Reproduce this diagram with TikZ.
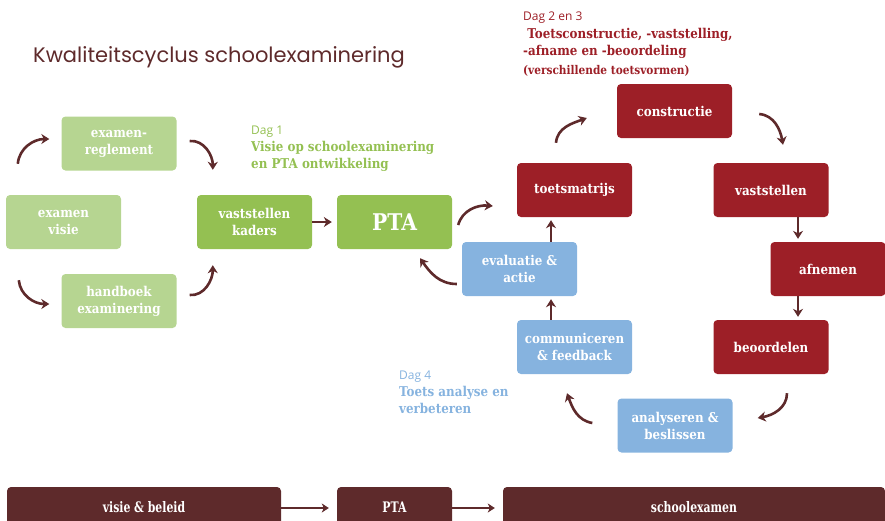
\documentclass[tikz,border=0pt]{standalone}
\usepackage{fontspec}
\setmainfont{DejaVu Serif}
\newfontfamily\titlefont{Poppins}
\newfontfamily\dagfont{Open Sans}
\newfontfamily\slab{DejaVu Serif}[FakeStretch=0.88]
\newfontfamily\condslab{DejaVu Serif}[FakeStretch=0.75]
\usetikzlibrary{arrows.meta,calc}
\definecolor{lgreen}{HTML}{B6D591}
\definecolor{dgreen}{HTML}{94C052}
\definecolor{dred}{HTML}{9D1F27}
\definecolor{lblue}{HTML}{86B3DF}
\definecolor{maroon}{HTML}{5E2A2B}
\tikzset{
  box/.style={rounded corners=4pt, minimum width=115pt, minimum height=54pt, inner sep=2pt,
    align=center, text=white, font=\slab\bfseries\fontsize{13.5}{17}\selectfont},
  lg/.style={box, fill=lgreen},
  dg/.style={box, fill=dgreen},
  rd/.style={box, fill=dred},
  bl/.style={box, fill=lblue},
  bar/.style={rounded corners=4pt, minimum height=40pt, inner sep=2pt, fill=maroon,
    text=white, font=\condslab\bfseries\fontsize{14.5}{17}\selectfont},
  arr/.style={draw=maroon, line width=2.6pt, -{Stealth[length=8pt,width=10pt,inset=2.5pt]}},
  sarr/.style={draw=maroon, line width=2pt, -{Stealth[length=7pt,width=9pt,inset=2pt]}},
  lab/.style={anchor=north west, inner sep=0pt, align=left, font=\slab\bfseries\fontsize{13.5}{17}\selectfont},
  daglab/.style={font=\dagfont\mdseries\fontsize{12}{17}\selectfont},
}
\newcommand{\dagline}[1]{{\dagfont\mdseries\fontsize{12}{17}\selectfont #1}}
\begin{document}
\begin{tikzpicture}[x=1pt,y=1pt]
\useasboundingbox (0,0) rectangle (885,-520);
\clip (0,0) rectangle (885,-520);

\node[anchor=west, inner sep=0pt, text=maroon, font=\titlefont\fontsize{21}{25}\selectfont] (title) at (33,-57) {Kwaliteitscyclus schoolexaminering};

% left cluster
\node[lg] (reg) at (119,-143.5) {examen-\\reglement};
\node[lg] (vis) at (63.5,-222) {examen\\visie};
\node[lg] (hand) at (119,-301) {handboek\\examinering};
\node[dg] (kad) at (254.5,-222) {vaststellen\\kaders};
\node[dg, font=\slab\bfseries\fontsize{23}{26}\selectfont] (pta) at (394.5,-222) {PTA};

% cycle
\node[rd] (toets) at (574.5,-190) {toetsmatrijs};
\node[rd] (constr) at (674.5,-111) {constructie};
\node[rd] (vast) at (771,-190) {vaststellen};
\node[rd] (afn) at (828,-269) {afnemen};
\node[rd] (beo) at (771,-347) {beoordelen};
\node[bl] (ana) at (675,-425.5) {analyseren \&\\beslissen};
\node[bl] (com) at (574.5,-347) {communiceren\\\& feedback};
\node[bl] (eva) at (519.5,-269) {evaluatie \&\\actie};

% text blocks
\node[lab, text=dgreen] (dag1) at (251,-126) {\dagline{Dag 1}\\
  Visie op schoolexaminering\\
  en PTA ontwikkeling};
\node[lab, text=dred] (dag2) at (523,-12) {\dagline{Dag 2 en 3}\\[1pt]
  \ Toetsconstructie, -vaststelling,\\
  -afname en -beoordeling\\[2pt]
  {\fontsize{12}{17}\selectfont (verschillende toetsvormen)}};
\node[lab, text=lblue] (dag4) at (399,-371) {\dagline{Dag 4}\\
  Toets analyse en\\
  verbeteren};

% curved arrows left
\draw[arr] ($(vis.north west)+(12,31)$) to[out=85,in=180] ($(reg.west)+(-12,4.5)$);
\draw[arr] ($(reg.east)+(13,2.5)$) to[out=5,in=90] ($(kad.north west)+(16,25)$);
\draw[arr] ($(vis.south west)+(13,-31)$) to[out=-85,in=180] ($(hand.west)+(-12,-3)$);
\draw[arr] ($(hand.east)+(13,6)$) to[out=-5,in=-90] ($(kad.south west)+(16,-16)$);
\draw[arr] (kad.east) -- ([xshift=-5pt]pta.west);

% cycle arrows
\draw[arr] ($(pta.east)+(6,-3)$) to[out=75,in=175] ($(toets.west)+(-24,-16)$);
\draw[arr] ($(toets.north)+(-18.5,20)$) to[out=85,in=200] ($(constr.west)+(-30,-7)$);
\draw[arr] ($(constr.east)+(27,-3)$) to[out=-5,in=100] ($(vast.north)+(12,18)$);
\draw[arr] ($(vast.south)+(27,0)$) -- ($(afn.north)+(-30,3)$);
\draw[arr] ($(afn.south)+(-30,0)$) -- ($(beo.north)+(27,3)$);
\draw[arr] ($(beo.south)+(16,-19)$) to[out=-90,in=10] ($(ana.east)+(25,7.5)$);
\draw[arr] ($(ana.west)+(-25,2.5)$) to[out=170,in=-70] ($(com.south)+(-7.5,-19)$);
\draw[arr] ($(com.north)+(-23.5,0)$) -- ($(eva.south)+(31.5,-3)$);
\draw[arr] ($(eva.north)+(31.5,0)$) -- ($(toets.south)+(-23.5,-3)$);
\draw[arr] ($(eva.west)+(-5,-15)$) to[out=180,in=-55] ($(pta.south)+(25.5,-9)$);

% bottom bar
\node[bar, minimum width=274pt] (b1) at (144,-507) {visie \& beleid};
\node[bar, minimum width=115pt] (b2) at (394.5,-507) {PTA};
\node[bar, minimum width=382pt] (b3) at (694,-507) {schoolexamen};
\draw[sarr] ([yshift=-1pt]b1.east) -- ([xshift=-8pt,yshift=-1pt]b2.west);
\draw[sarr] ([yshift=-1pt]b2.east) -- ([xshift=-8pt,yshift=-1pt]b3.west);
\end{tikzpicture}
\end{document}
